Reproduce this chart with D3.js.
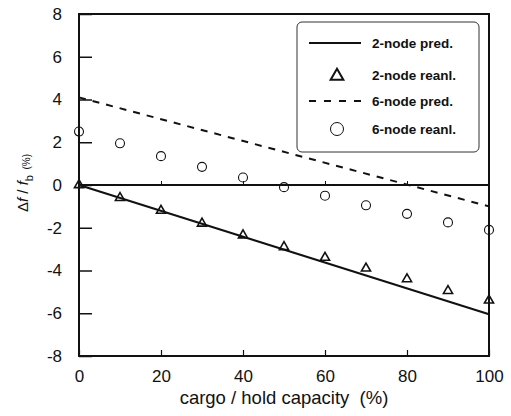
<!doctype html>
<html lang="en">
  <head>
    <meta charset="utf-8">
    <title>Frequency shift vs cargo</title>
    <style>
      body { margin: 0; background: #fff; }
      text { font-family: "Liberation Sans", Arial, sans-serif; fill: #111; }
    </style>
  </head>
  <body>
    <div id="chart"></div>

    <script src="https://cdn.jsdelivr.net/npm/d3@7"></script>
    <script>
      // Data
      var cargo = [0, 10, 20, 30, 40, 50, 60, 70, 80, 90, 100];
      var twoNodeReanl = [0, -0.6, -1.2, -1.8, -2.35, -2.9, -3.4, -3.9, -4.4, -4.95, -5.4];
      var sixNodeReanl = [2.5, 1.95, 1.35, 0.85, 0.35, -0.1, -0.5, -0.95, -1.35, -1.75, -2.1];
      var predCargo = [0, 100];
      var twoNodePred = [0, -6.05];
      var sixNodePred = [4.1, -1.0];
      var xTicks = [0, 20, 40, 60, 80, 100];
      var yTicks = [-8, -6, -4, -2, 0, 2, 4, 6, 8];
      var legendLabels = ["2-node pred.", "2-node reanl.", "6-node pred.", "6-node reanl."];

      // Set params
      var W = 511, H = 416;
      var margin = {top: 14, right: 22, bottom: 60, left: 79},
          width = W - margin.left - margin.right,
          height = H - margin.top - margin.bottom;

      var svg = d3.select("#chart")
        .append("svg")
        .attr("width", W)
        .attr("height", H);

      var g = svg.append("g")
        .attr("transform", "translate(" + margin.left + "," + margin.top + ")");

      var x = d3.scaleLinear().domain([0, 100]).range([0, width]);
      var y = d3.scaleLinear().domain([-8, 8]).range([height, 0]);

      // plain hyphen for negatives, like the original
      var plain = function(d) { return String(d); };

      // Bottom axis: labels outside, short ticks inside
      var xAxis = g.append("g")
        .attr("transform", "translate(0," + height + ")")
        .call(d3.axisBottom(x).tickValues(xTicks).tickSize(-6).tickPadding(14).tickFormat(plain));
      xAxis.select(".domain").remove();
      xAxis.selectAll("line").attr("stroke", "#111").attr("stroke-width", 1.2);
      xAxis.selectAll("text").attr("font-size", "17px").attr("dy", "0.71em");

      // Left axis: inward ticks
      var yAxis = g.append("g")
        .call(d3.axisLeft(y).tickValues(yTicks).tickSize(-13).tickPadding(17).tickFormat(plain));
      yAxis.select(".domain").remove();
      yAxis.selectAll("line").attr("stroke", "#111").attr("stroke-width", 1.5);
      yAxis.selectAll("text").attr("font-size", "17px");

      // Zero line with small ticks
      var zeroAxis = g.append("g")
        .attr("transform", "translate(0," + y(0) + ")")
        .call(d3.axisBottom(x).tickValues(xTicks).tickSize(-4).tickFormat(""));
      zeroAxis.select(".domain").remove();
      zeroAxis.selectAll("line").attr("stroke", "#111");
      g.append("line")
        .attr("x1", x(0)).attr("x2", x(100))
        .attr("y1", y(0)).attr("y2", y(0))
        .attr("stroke", "#111").attr("stroke-width", 1.8);

      // Frame
      g.append("rect")
        .attr("x", 0).attr("y", 0)
        .attr("width", width).attr("height", height)
        .attr("fill", "none")
        .attr("stroke", "#111")
        .attr("stroke-width", 2);

      // Prediction lines
      var line = d3.line()
        .x(function(d) { return x(d[0]); })
        .y(function(d) { return y(d[1]); });

      g.append("path")
        .datum(d3.zip(predCargo, twoNodePred))
        .attr("d", line)
        .attr("fill", "none")
        .attr("stroke", "#111")
        .attr("stroke-width", 2);

      g.append("path")
        .datum(d3.zip(predCargo, sixNodePred))
        .attr("d", line)
        .attr("fill", "none")
        .attr("stroke", "#111")
        .attr("stroke-width", 2)
        .attr("stroke-dasharray", "7,7");

      // Reanalysis markers
      var tri = d3.symbol().type(d3.symbolTriangle).size(36);
      g.selectAll(".tri")
        .data(d3.zip(cargo, twoNodeReanl))
        .enter().append("path")
        .attr("d", tri)
        .attr("transform", function(d) { return "translate(" + x(d[0]) + "," + y(d[1]) + ")"; })
        .attr("fill", "none")
        .attr("stroke", "#111")
        .attr("stroke-width", 1.6);

      g.selectAll(".circ")
        .data(d3.zip(cargo, sixNodeReanl))
        .enter().append("circle")
        .attr("cx", function(d) { return x(d[0]); })
        .attr("cy", function(d) { return y(d[1]); })
        .attr("r", 4.5)
        .attr("fill", "none")
        .attr("stroke", "#111")
        .attr("stroke-width", 1.1);

      // Legend
      var legend = svg.append("g").attr("transform", "translate(297,22)");
      legend.append("rect")
        .attr("width", 182).attr("height", 130)
        .attr("rx", 5)
        .attr("fill", "#fff")
        .attr("stroke", "#333")
        .attr("stroke-width", 1);

      var rowY = [21, 53, 79, 107];
      legend.append("line")
        .attr("x1", 12).attr("x2", 64).attr("y1", rowY[0]).attr("y2", rowY[0])
        .attr("stroke", "#111").attr("stroke-width", 2);
      legend.append("path")
        .attr("d", d3.symbol().type(d3.symbolTriangle).size(70))
        .attr("transform", "translate(40," + (rowY[1] + 1) + ")")
        .attr("fill", "none").attr("stroke", "#111").attr("stroke-width", 2);
      legend.append("line")
        .attr("x1", 12).attr("x2", 64).attr("y1", rowY[2]).attr("y2", rowY[2])
        .attr("stroke", "#111").attr("stroke-width", 2)
        .attr("stroke-dasharray", "7,8");
      legend.append("circle")
        .attr("cx", 40).attr("cy", rowY[3]).attr("r", 6.5)
        .attr("fill", "none").attr("stroke", "#111").attr("stroke-width", 1);

      legend.selectAll(".lbl")
        .data(legendLabels)
        .enter().append("text")
        .attr("x", 75)
        .attr("y", function(d, i) { return rowY[i]; })
        .attr("dy", "0.35em")
        .attr("font-size", "13.5px")
        .attr("font-weight", "bold")
        .text(function(d) { return d; });

      // Axis titles
      svg.append("text")
        .attr("x", margin.left + width / 2)
        .attr("y", 404)
        .attr("text-anchor", "middle")
        .attr("font-size", "18.5px")
        .style("white-space", "pre")
        .text("cargo / hold capacity  (%)");

      var ylab = svg.append("text")
        .attr("transform", "translate(28,183) rotate(-90)")
        .attr("text-anchor", "middle")
        .attr("font-size", "15px")
        .style("white-space", "pre");
      ylab.append("tspan").text("\u0394");
      ylab.append("tspan").attr("font-style", "italic").text("f");
      ylab.append("tspan").text(" / ");
      ylab.append("tspan").attr("font-style", "italic").text("f");
      ylab.append("tspan").attr("font-size", "11px").attr("dy", 5).text("b");
      ylab.append("tspan").attr("font-size", "10px").attr("dy", -3).text("  (%)");
    </script>
  </body>
</html>
